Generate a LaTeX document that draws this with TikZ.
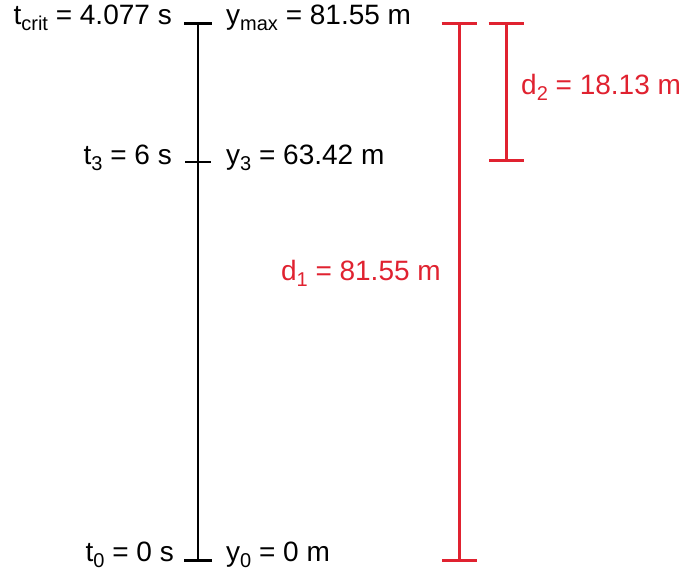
\documentclass[tikz,border=0pt]{standalone}
\usepackage{fontspec}
\setmainfont{Liberation Sans}
\usetikzlibrary{arrows.meta}
\definecolor{distred}{RGB}{224,34,48}
\newcommand\lowtxt[1]{\raisebox{-0.2em}{\fontsize{20}{22}\selectfont #1}}

\begin{document}
\begin{tikzpicture}[x=1pt, y=-1pt, every node/.style={font=\fontsize{28}{32}\selectfont, inner sep=0pt},
    axis/.style={line width=2.6pt}, distbar/.style={distred, line width=3pt, {Bar[width=35pt]}-{Bar[width=35pt]}}]
  \useasboundingbox (0,0) rectangle (682,575);
  % black axis: time on the left, height on the right
  \coordinate (ymax) at (198,22);
  \coordinate (y3) at (198,162);
  \coordinate (y0) at (198,562);
  \draw[axis, {Bar[width=28pt]}-{Bar[width=28pt]}] (ymax) -- (y0);
  \draw[axis] ([xshift=-13pt]y3) -- ([xshift=13pt]y3);
  \node[anchor=mid east] (tcrit) at ([xshift=-26pt]ymax) {t\lowtxt{crit} = 4.077 s};
  \node[anchor=mid east] (tthree) at ([xshift=-26pt]y3) {t\lowtxt{3} = 6 s};
  \node[anchor=mid east] (tzero) at ([xshift=-24pt, yshift=3pt]y0) {t\lowtxt{0} = 0 s};
  \node[anchor=mid west] (ytop) at ([xshift=28pt]ymax) {y\lowtxt{max} = 81.55 m};
  \node[anchor=mid west] (ythree) at ([xshift=28pt]y3) {y\lowtxt{3} = 63.42 m};
  \node[anchor=mid west] (yzero) at ([xshift=28pt, yshift=3pt]y0) {y\lowtxt{0} = 0 m};
  % red distances
  \coordinate (d1top) at (459,22);
  \coordinate (d1bot) at (459,562);
  \coordinate (d2top) at (506,22);
  \coordinate (d2bot) at (506,162);
  \draw[distbar] (d1top) -- (d1bot);
  \draw[distbar] (d2top) -- (d2bot);
  \node[anchor=mid east, distred] (done) at (441,278) {d\lowtxt{1} = 81.55 m};
  \node[anchor=mid west, distred] (dtwo) at (521,92) {d\lowtxt{2} = 18.13 m};
\end{tikzpicture}
\end{document}
